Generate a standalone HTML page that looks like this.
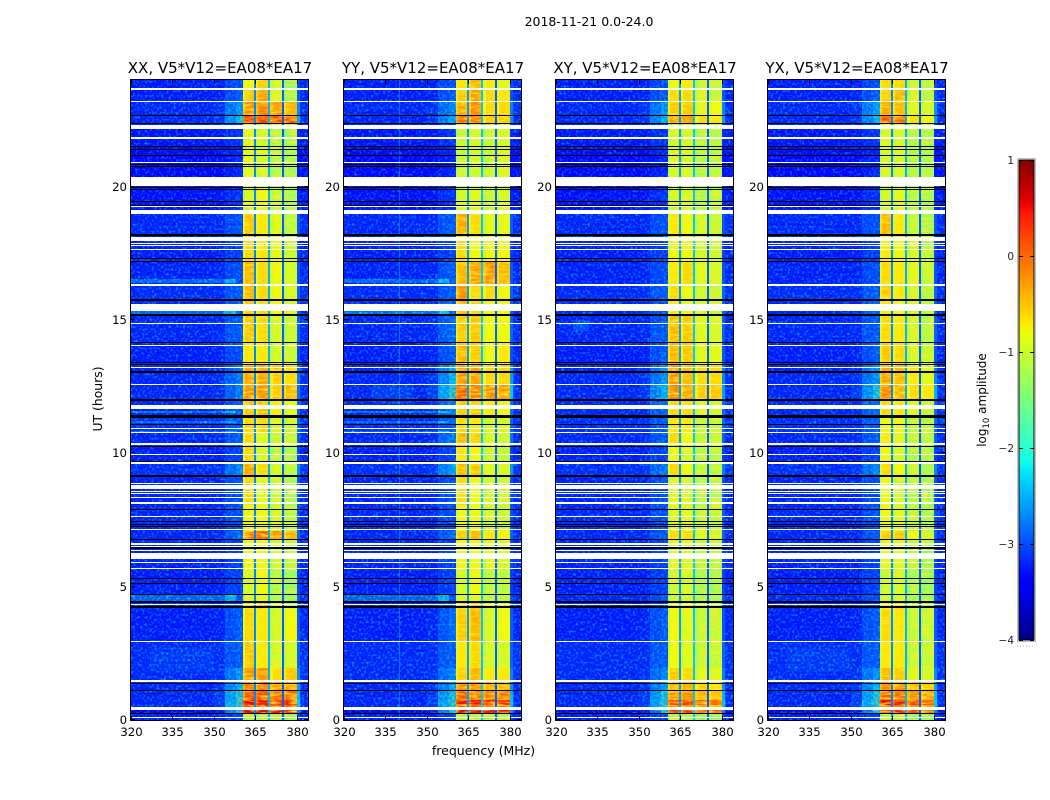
<!DOCTYPE html>
<html lang="en">
<head>
<meta charset="utf-8">
<title>2018-11-21 spectrogram</title>
<style>
html,body{margin:0;padding:0;background:#fff;}
svg{display:block;font-family:"DejaVu Sans","Liberation Sans",sans-serif;fill:#000;}
.cell,.flag{shape-rendering:crispEdges;}
.tick{stroke:#000;stroke-width:1;shape-rendering:crispEdges;}
</style>
</head>
<body>
<svg id="chart" width="1050" height="800" viewBox="0 0 1050 800" xmlns="http://www.w3.org/2000/svg">
  <defs>
    <filter id="speckle" x="0" y="0" width="100%" height="100%" color-interpolation-filters="sRGB">
      <feTurbulence type="fractalNoise" baseFrequency="0.42" numOctaves="1" seed="7"/>
      <feColorMatrix type="matrix" values="0 0 0 0 0  2.6 0 0 0 -1.28  1.2 0 0 0 0.45  0 0 0 0 0.62"/>
    </filter>
    <filter id="speckle-light" x="0" y="0" width="100%" height="100%" color-interpolation-filters="sRGB">
      <feTurbulence type="fractalNoise" baseFrequency="0.42" numOctaves="1" seed="19"/>
      <feColorMatrix type="matrix" values="0 0 0 0 0  2.6 0 0 0 -1.1  1.2 0 0 0 0.45  0 0 0 0 0.35"/>
    </filter>
    <filter id="stripes" x="0" y="0" width="100%" height="100%" color-interpolation-filters="sRGB">
      <feTurbulence type="fractalNoise" baseFrequency="0.1 0.45" numOctaves="2" seed="11"/>
      <feColorMatrix type="matrix" values="0 0 0 0 1  0 0 0 0 0.92  0 0 0 0 0.15  0 2.2 0 0 -0.85"/>
    </filter>
    <linearGradient id="jet-gradient" x1="0" y1="1" x2="0" y2="0"></linearGradient>
  </defs>
  <text x="589" y="26" font-size="12.5" text-anchor="middle">2018-11-21 0.0-24.0</text>
  <text x="483.5" y="755" font-size="12.5" text-anchor="middle">frequency (MHz)</text>
  <text transform="translate(102 399) rotate(-90)" font-size="12.4" text-anchor="middle">UT (hours)</text>
  <g id="panels"></g>
  <g id="colorbar"></g>
</svg>
<script>
const panelNames = ["XX, V5*V12=EA08*EA17","YY, V5*V12=EA08*EA17","XY, V5*V12=EA08*EA17","YX, V5*V12=EA08*EA17"];
const panelSlugs = ["xx","yy","xy","yx"];
const xTickLabels = [320,335,350,365,380];
const yTickLabels = [0,5,10,15,20];
const colorbarTickLabels = [1,0,-1,-2,-3,-4];

const bandEdgeHours = [24,23.66,23.18,22.65,22.35,21.53,20.36,19.88,19.13,18.15,17.18,16.35,15.75,15.15,14.18,13.35,12.6,12,11.4,10.76,10.27,9.6,9.15,8.06,7.09,6.79,5.63,4.69,4.46,4.16,2.96,1.95,1.43,1.08,0.75,0.56,0.45,0.28,0];

const backgroundLevels = [-3.1,-3.1,-3,-3,-3.2,-3.35,-3.3,-3.25,-3,-3.1,-3.05,-2.95,-3,-3,-3.1,-3,-3,-3,-2.9,-3,-3.1,-2.9,-3.05,-3,-3,-3.05,-3.1,-3,-3,-3.1,-2.95,-2.95,-3,-3,-3,-3,-3.4,-3.1];

const rampXX = [-2.9,-2.8,-2.4,-2.1,-3.1,-3.2,-3.2,-3.1,-2.9,-3,-2.9,-2.8,-2.8,-2.8,-2.9,-2.6,-2.6,-2.8,-2.8,-2.8,-3,-2.5,-2.9,-2.9,-2.7,-3,-3,-2.9,-2.9,-2.8,-2.8,-2.4,-2.2,-1.9,-1.7,-1.8,-2,-3];
const rampYY = [-2.9,-2.8,-2.5,-2.3,-3.1,-3.2,-3.2,-3.1,-2.8,-3,-2.8,-2.8,-2.8,-2.7,-2.8,-2.2,-1.8,-2.6,-2.8,-2.6,-3,-2.3,-2.9,-2.9,-2.7,-3,-3,-2.9,-2.9,-2.7,-2.8,-2.5,-2.3,-2,-1.8,-1.9,-2,-3];
const rampXY = [-2.9,-2.8,-2.4,-2.2,-3.1,-3.2,-3.2,-3.1,-2.9,-3,-2.9,-2.8,-2.8,-2.8,-2.8,-2.4,-2.2,-2.7,-2.8,-2.8,-3,-2.6,-2.9,-2.9,-2.8,-3,-3,-2.9,-2.9,-2.8,-2.8,-2.5,-2.3,-2,-1.8,-1.9,-2.1,-3];
const rampYX = [-2.9,-2.8,-2.3,-2.2,-3.1,-3.2,-3.2,-3.1,-2.9,-3,-2.9,-2.8,-2.8,-2.8,-2.8,-2.4,-2,-2.7,-2.8,-2.8,-3,-2.5,-2.9,-2.9,-2.8,-3,-3,-2.9,-2.9,-2.8,-2.8,-2.4,-2.2,-1.9,-1.7,-1.8,-2,-3];

const blocksXX = [[-.8,-.5,-1,-1.4],[-.5,-.3,-1,-1.3],[-.2,-.1,-.2,-.4],[.25,.25,.2,.1],[-.9,-1,-1.2,-1.3],[-.9,-1,-1.2,-1.3],[-.9,-.8,-1.1,-1.3],[-1,-.8,-1.1,-1.3],[-.5,-.7,-.9,-1.2],[-.6,-.7,-.9,-1.1],[-.4,-.6,-.8,-1],[-.4,-.6,-.8,-1],[-.5,-.6,-.8,-1],[-.5,-.6,-1,-1.1],[-.7,-.7,-1,-1.1],[-.3,-.3,-.5,-.6],[-.2,-.2,-.5,-.4],[-.5,-.5,-.7,-.9],[-.6,-.6,-1,-1.1],[-.6,-.9,-1.1,-1.1],[-.6,-1,-1.2,-1.3],[-.3,-.6,-1,-1.2],[-.6,-.9,-1.1,-1.3],[-.8,-.8,-1,-1.2],[-.1,.1,-.2,-.4],[-.8,-.8,-1,-1.2],[-1,-.8,-1.2,-1.4],[-1,-.9,-1.2,-1.4],[-.7,-.5,-1,-1.1],[-.6,-.7,-1,-.8],[-.5,-.7,-1,-1],[-.2,-.2,-.6,-.5],[-.05,-.05,-.25,-.25],[.2,.2,0,0],[.55,.55,.45,.45],[.2,.2,.1,.1],[.6,.6,.5,.5],[-1.2,-1.2,-1.3,-1.4]];
const blocksYY = [[-.7,-.4,-.7,-.9],[-.5,-.3,-.6,-.7],[-.3,-.2,-.6,-.6],[0,-.1,-.5,-.5],[-1.1,-1,-1.1,-1],[-1.1,-1.05,-1.1,-1],[-1.1,-1,-1.1,-1],[-1,-.9,-1.1,-1],[-.3,-.6,-.9,-.9],[-.6,-.8,-.8,-.8],[-.4,-.25,-.2,-.4],[-.2,-.6,-.6,-.8],[-.4,-.6,-.8,-.8],[-.5,-.5,-.8,-.8],[-.4,-.5,-.8,-.7],[-.2,-.3,-.6,-.6],[.1,-.1,-.2,-.3],[-.5,-.5,-.7,-.8],[-.6,-.7,-1,-1],[-.4,-.5,-1,-1.1],[-.7,-.8,-1.1,-1.1],[-.4,-.5,-.9,-1],[-.6,-.8,-1,-1.1],[-.8,-.8,-1,-1.1],[-.5,-.4,-.7,-.8],[-.8,-.8,-.9,-1],[-1,-.8,-1.2,-1.2],[-1,-.9,-1.2,-1.2],[-.6,-.4,-.9,-.9],[-.5,-.4,-1,-.8],[-.7,-.6,-1,-1],[-.5,-.4,-.7,-.7],[-.15,-.2,-.35,-.35],[.1,.05,-.1,-.1],[.5,.5,.4,.4],[.15,.1,0,0],[.6,.6,.5,.5],[-1.2,-1.2,-1.3,-1.3]];
const blocksXY = [[-.8,-.7,-1.1,-1.1],[-.6,-.6,-1,-1.1],[-.5,-.5,-.9,-.8],[-.2,-.2,-.6,-.7],[-1,-1,-1.2,-1.2],[-1,-1,-1.2,-1.2],[-1,-1,-1.2,-1.2],[-1,-1,-1.2,-1.2],[-.7,-.8,-1,-1.1],[-.8,-.8,-1,-1.1],[-.7,-.6,-.9,-1],[-.6,-.8,-1,-1.1],[-.7,-.8,-1,-1.1],[-.4,-.5,-.9,-1],[-.4,-.5,-.9,-.9],[-.2,-.4,-.6,-.6],[-.1,-.3,-.5,-.5],[-.6,-.6,-.9,-1],[-.7,-.7,-1.1,-1.1],[-.6,-.8,-1.1,-1.1],[-.8,-1,-1.2,-1.2],[-.6,-.8,-1.1,-1.2],[-.9,-1,-1.2,-1.2],[-.9,-.9,-1.1,-1.1],[-.6,-.6,-.9,-1],[-.9,-.9,-1.1,-1.2],[-1.1,-1,-1.3,-1.3],[-1.1,-1,-1.3,-1.3],[-.8,-.8,-1.1,-1.2],[-.8,-.9,-1.1,-1.1],[-.8,-.9,-1.1,-1.1],[-.5,-.6,-.9,-.9],[-.35,-.35,-.55,-.65],[-.15,-.15,-.35,-.45],[.3,.25,.05,0],[-.15,-.15,-.35,-.45],[.3,.3,.1,.1],[-1.2,-1.2,-1.4,-1.4]];
const blocksYX = [[-.6,-.6,-1.1,-1.2],[-.5,-.4,-1,-1.2],[-.3,-.4,-.9,-1],[.1,0,-.6,-.8],[-1,-1,-1.2,-1.3],[-1,-1,-1.2,-1.3],[-1,-.9,-1.2,-1.3],[-1,-.9,-1.2,-1.3],[-.4,-.7,-1.1,-1.3],[-.7,-.8,-1,-1.2],[-.6,-.7,-.9,-1.1],[-.5,-.7,-1,-1.2],[-.7,-.8,-1,-1.2],[-.6,-.7,-1,-1.2],[-.5,-.6,-1,-1.1],[-.3,-.4,-.7,-.9],[-.1,-.4,-.6,-.7],[-.6,-.7,-.9,-1.1],[-.8,-.8,-1.1,-1.2],[-.7,-.9,-1.1,-1.2],[-.8,-1,-1.2,-1.3],[-.6,-.8,-1.1,-1.3],[-.8,-1,-1.2,-1.3],[-.8,-.9,-1.1,-1.3],[-.5,-.5,-.8,-1],[-.9,-.9,-1.1,-1.3],[-1.1,-1,-1.3,-1.4],[-1.1,-1,-1.3,-1.4],[-.7,-.6,-1.1,-1.2],[-.6,-.7,-1.1,-1.1],[-.7,-.7,-1.1,-1.1],[-.4,-.5,-.9,-1],[-.15,-.15,-.45,-.55],[.1,.05,-.2,-.3],[.5,.5,.2,.1],[.1,.1,-.2,-.3],[.4,.4,.2,.2],[-1.2,-1.2,-1.4,-1.4]];

const gapsXX = [-2.7,-2.5,-2.9];
const gapsYY = [-2.6,-2.4,-2.9];
const gapsXY = [-2.6,-2.4,-2.9];
const gapsYX = [-2.7,-2.5,-2.9];

const parallelHandStripes = [[16.54,16.39,-2.2],[15.32,15.22,-2.1],[4.69,4.46,-2.2],[11.58,11.52,-2.1],[11.2,11.15,-2.2],[10.85,10.8,-2.2]];
const parallelPanels = [0,1];
const skyPatchFreqs = [[327,350],[330,345],[326,332],[327,350]];
const skyPatchHours = [[2.7,1.8],[12.6,11.9],[15,14.6],[2.7,1.8]];
const skyPatchLevels = [-2.75,-2.7,-2.5,-2.75];
const interferenceFreqYY = [340];
const interferenceLevelYY = [-2.5];

const whiteFlags = [[23.7,23.64],[23.21,23.16],[22.33,22.16],[21.88,21.84],[21.81,21.77],[20.94,20.91],[20.36,20.03],[19.28,19.24],[19.13,18.98],[18.11,17.96],[17.89,17.85],[17.81,17.78],[17.66,17.63],[16.35,16.29],[15.6,15.5],[15.47,15.32],[14.89,14.85],[14.06,14.03],[13.24,13.2],[12.6,12.56],[11.81,11.66],[10.95,10.91],[10.8,10.76],[10.37,10.32],[9.97,9.93],[9.66,9.61],[8.89,8.85],[8.8,8.65],[8.6,8.56],[8.5,8.46],[8.35,8.31],[8.18,8.1],[7.65,7.6],[7.16,7.11],[6.64,6.58],[6.51,6.47],[6.38,6.32],[6.26,6.04],[5.93,5.88],[5.7,5.65],[4.35,4.31],[2.98,2.93],[1.5,1.43],[.47,.39],[.13,.09]];
const blackFlags = [[22.69,22.65],[22.39,22.35],[21.53,21.49],[21.43,21.39],[21.19,21.15],[20.85,20.81],[20.76,20.72],[19.99,19.95],[19.91,19.88],[19.46,19.43],[19.31,19.28],[18.21,18.15],[17.33,17.29],[17.23,17.19],[15.77,15.73],[15.21,15.15],[14.18,14.12],[13.41,13.37],[13.35,13.31],[13.07,13.03],[12.02,11.98],[11.44,11.34],[11.1,11.06],[10.28,10.24],[9.73,9.69],[9.19,9.13],[7.93,7.89],[7.46,7.43],[7.35,7.31],[7.29,7.24],[6.79,6.75],[6.47,6.41],[5.33,5.29],[5.14,5.1],[4.73,4.69],[4.46,4.39],[4.28,4.2],[1.39,1.35],[1.11,1.07],[.28,.21]];

const jetStopPositions = [0,.11,.125,.34,.35,.375,.64,.65,.66,.89,.91,1];
const jetRed = [0,0,0,0,0,.08,.92,.95,1,1,.91,.5];
const jetGreen = [0,0,0,.86,.9,1,1,.96,.91,.09,0,0];
const jetBlue = [.5,1,1,1,.97,.9,.03,0,0,0,0,0];

const NS = "http://www.w3.org/2000/svg";
const panelLefts = [131,344,556,768];
const panelWidth = 177, plotTop = 80, plotBottom = 720;
const freqMin = 320, freqMax = 384, hourMax = 24;
const blockSpans = [[360.4,364.6],[365.3,369.6],[370.4,374.7],[375.4,380]];
const allRamps = [rampXX,rampYY,rampXY,rampYX];
const allBlocks = [blocksXX,blocksYY,blocksXY,blocksYX];
const allGaps = [gapsXX,gapsYY,gapsXY,gapsYX];
const skyPatchPanels = [0,1,2,3];

function xScale(left, f){ return left + (f - freqMin) * panelWidth / (freqMax - freqMin); }
function yScale(h){ return plotBottom - h * (plotBottom - plotTop) / hourMax; }
function lerp(xs, ys, v){
  for(let i=1;i<xs.length;i++){
    if(v<=xs[i]){ const t=(v-xs[i-1])/(xs[i]-xs[i-1]); return ys[i-1]+t*(ys[i]-ys[i-1]); }
  }
  return ys[ys.length-1];
}
function jet(level){
  const v=Math.min(1,Math.max(0,(level+4)/5));
  const c=a=>Math.round(255*lerp(jetStopPositions,a,v));
  return "rgb("+c(jetRed)+","+c(jetGreen)+","+c(jetBlue)+")";
}
function el(tag, attrs, parent){
  const n=document.createElementNS(NS,tag);
  for(const k in attrs) n.setAttribute(k,attrs[k]);
  parent.appendChild(n);
  return n;
}
function cell(group,left,f0,f1,b,level){
  const x0=Math.round(xScale(left,f0)), x1=Math.round(xScale(left,f1));
  const y0=Math.round(yScale(bandEdgeHours[b])), y1=Math.round(yScale(bandEdgeHours[b+1]));
  const r=el("rect",{x:x0,y:y0,width:x1-x0,height:y1-y0,fill:jet(level),"class":"cell"},group);
  
  
}
function region(group,left,f0,f1,h0,h1,level,name){
  const x0=Math.round(xScale(left,f0)), x1=Math.round(xScale(left,f1));
  const y0=Math.round(yScale(h0)), y1=Math.max(y0+1,Math.round(yScale(h1)));
  const r=el("rect",{x:x0,y:y0,width:Math.max(1,x1-x0),height:y1-y0,fill:jet(level),"class":"cell"},group);
  
  
  return r;
}
function flagLine(group,left,pair,color){
  const y0=Math.round(yScale(pair[0])), y1=Math.max(y0+1,Math.round(yScale(pair[1])));
  const r=el("rect",{x:left,y:y0,width:panelWidth,height:y1-y0,fill:color,"class":"flag"},group);
  
  
}

const panelsRoot=document.getElementById("panels");
panelNames.forEach(function(name,p){
  const left=panelLefts[p];
  const g=el("g",{},panelsRoot);
  
  
  const cells=el("g",{},g);
  
  
  const ramp=allRamps[p], blocks=allBlocks[p], gaps=allGaps[p];
  backgroundLevels.forEach(function(bg,b){
    const r=ramp[b], lv=blocks[b];
    cell(cells,left,320,350,b,bg);
    cell(cells,left,350,354,b,bg+(r-bg)*.25);
    cell(cells,left,354,358,b,bg+(r-bg)*.6);
    cell(cells,left,358,360.4,b,r);
    cell(cells,left,360.4,361.2,b,lv[0]-.25);
    cell(cells,left,361.2,364.6,b,lv[0]);
    cell(cells,left,364.6,365.3,b,gaps[0]);
    cell(cells,left,365.3,366.1,b,lv[1]-.25);
    cell(cells,left,366.1,369.6,b,lv[1]);
    cell(cells,left,369.6,370.4,b,gaps[1]);
    cell(cells,left,370.4,371.2,b,lv[2]-.2);
    cell(cells,left,371.2,374.7,b,lv[2]);
    cell(cells,left,374.7,375.4,b,gaps[2]);
    cell(cells,left,375.4,376.2,b,lv[3]-.2);
    cell(cells,left,376.2,380,b,lv[3]);
    cell(cells,left,380,381.5,b,(bg+r)/2);
    cell(cells,left,381.5,384,b,bg+.1);
  });
  skyPatchPanels.forEach(function(panel,i){
    if(panel===p){
      const f=skyPatchFreqs[i], h=skyPatchHours[i];
      region(cells,left,f[0],f[1],h[0],h[1],skyPatchLevels[i],'sky-emission-patch');
    }
  });
  if(parallelPanels.indexOf(p)>=0){
    parallelHandStripes.forEach(function(s){
      region(cells,left,320,358,s[0],s[1],s[2],'broadband-stripe');
    });
  }
  const noiseEnd=Math.round(xScale(left,354));
  const rampEnd=Math.round(xScale(left,360.4));
  const s1=el("rect",{x:left,y:plotTop,width:noiseEnd-left,height:plotBottom-plotTop,filter:"url(#speckle)"},g);
  
  
  const s3=el("rect",{x:noiseEnd,y:plotTop,width:rampEnd-noiseEnd,height:plotBottom-plotTop,filter:"url(#speckle-light)"},g);
  
  
  const tailX=Math.round(xScale(left,381));
  const s2=el("rect",{x:tailX,y:plotTop,width:left+panelWidth-tailX,height:plotBottom-plotTop,filter:"url(#speckle)"},g);
  
  
  blockSpans.forEach(function(sp){
    const x0=Math.round(xScale(left,sp[0])), x1=Math.round(xScale(left,sp[1]));
    const st=el("rect",{x:x0,y:plotTop,width:x1-x0,height:plotBottom-plotTop,filter:"url(#stripes)"},g);
    
    
  });
  if(p===1){
    interferenceFreqYY.forEach(function(f,i){
      const line=region(g,left,f,f+.4,24,0,interferenceLevelYY[i],'interference-line');
      line.setAttribute('opacity','.55');
    });
  }
  whiteFlags.forEach(function(f){ flagLine(g,left,f,"#fff"); });
  blackFlags.forEach(function(f){ flagLine(g,left,f,"#000"); });

  const frame=el("rect",{x:left-.5,y:plotTop-.5,width:panelWidth+1,height:plotBottom-plotTop+1,fill:"none",stroke:"#000","stroke-width":1},g);
  
  
  const title=el("text",{x:left+panelWidth/2+.5,y:73,"font-size":15,"text-anchor":"middle"},g);
  title.textContent=name;
  
  

  xTickLabels.forEach(function(t){
    const x=Math.round(xScale(left,t))+.5;
    const a=el("line",{x1:x,x2:x,y1:plotBottom,y2:plotBottom-4,"class":"tick"},g);
    
    
    const a2=el("line",{x1:x,x2:x,y1:plotTop,y2:plotTop+4,"class":"tick"},g);
    
    
    const l=el("text",{x:x,y:736,"font-size":11.7,"text-anchor":"middle"},g);
    l.textContent=t;
    
    
  });
  yTickLabels.forEach(function(t){
    const y=Math.round(yScale(t))-.5;
    const a=el("line",{x1:left,x2:left+4,y1:y,y2:y,"class":"tick"},g);
    
    
    const a2=el("line",{x1:left+panelWidth,x2:left+panelWidth-4,y1:y,y2:y,"class":"tick"},g);
    
    
    const l=el("text",{x:left-4,y:y+4.5,"font-size":11.7,"text-anchor":"end"},g);
    l.textContent=t;
    
    
  });
});

/* colorbar */
const cbLeft=1019, cbWidth=15, cbTop=160, cbBottom=640;
function cbScale(v){ return cbBottom-(v+4)*(cbBottom-cbTop)/5; }
const grad=document.getElementById("jet-gradient");
jetStopPositions.forEach(function(pos,i){
  el("stop",{offset:pos,"stop-color":"rgb("+Math.round(255*jetRed[i])+","+Math.round(255*jetGreen[i])+","+Math.round(255*jetBlue[i])+")"},grad);
});
const cb=document.getElementById("colorbar");
const outer=el("rect",{x:cbLeft-1.5,y:cbTop-1.5,width:cbWidth+3,height:cbBottom-cbTop+3,fill:"none",stroke:"#bbb","stroke-width":1},cb);


const bar=el("rect",{x:cbLeft,y:cbTop,width:cbWidth,height:cbBottom-cbTop,fill:"url(#jet-gradient)",stroke:"#000","stroke-width":1},cb);


colorbarTickLabels.forEach(function(t){
  const y=Math.round(cbScale(t))+.5;
  const a=el("line",{x1:cbLeft,x2:cbLeft+4,y1:y,y2:y,"class":"tick"},cb);
  
  
  const a2=el("line",{x1:cbLeft+cbWidth,x2:cbLeft+cbWidth-4,y1:y,y2:y,"class":"tick"},cb);
  
  
  const l=el("text",{x:cbLeft-5,y:y+3.5,"font-size":10.5,"text-anchor":"end",fill:"#222"},cb);
  l.textContent=(t<0?"\u2212":"")+Math.abs(t);
  
  
});
const dots=el("line",{x1:1017,x2:1035,y1:646,y2:646,stroke:"#aaa","stroke-width":1,"stroke-dasharray":"1 2"},cb);


const cbl=el("text",{transform:"translate(986 400) rotate(-90)","font-size":12,"text-anchor":"middle"},cb);


cbl.appendChild(document.createTextNode("log"));
const sub=el("tspan",{"font-size":8.5,dy:3},cbl);
sub.textContent="10";
const rest=el("tspan",{dy:-3},cbl);
rest.textContent=" amplitude";
</script>
</body>
</html>
